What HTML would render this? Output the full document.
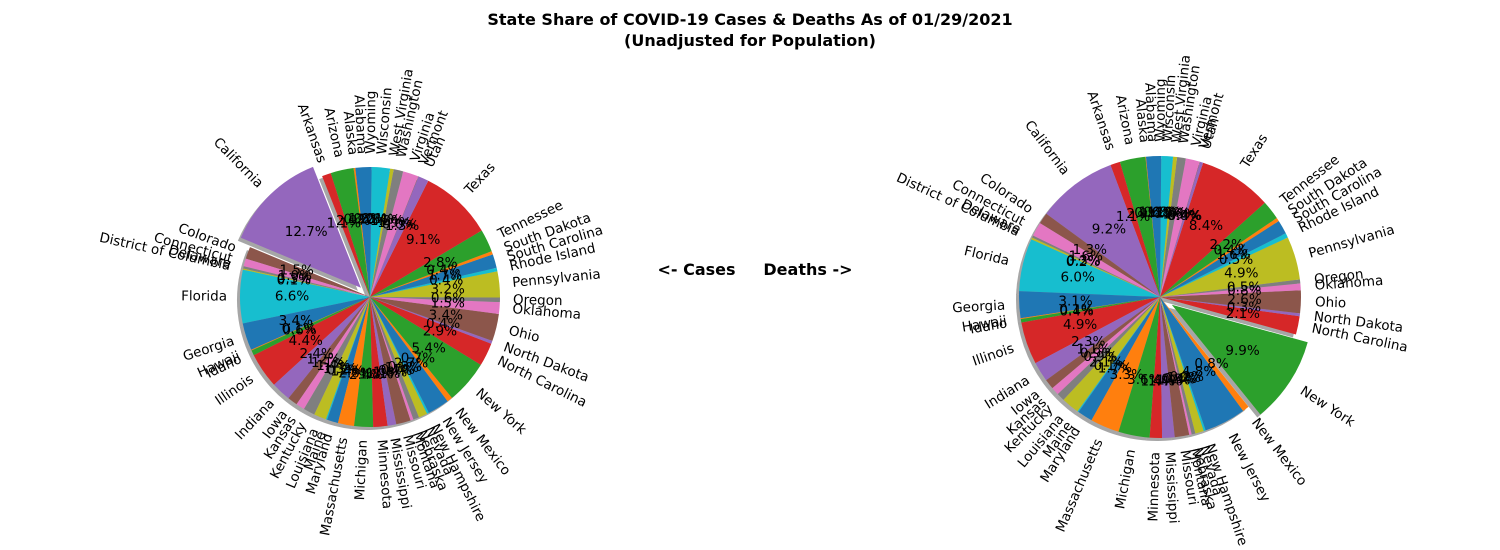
<!DOCTYPE html>
<html><head><meta charset="utf-8"><style>
html,body{margin:0;padding:0;background:#fff;}
svg{display:block;font-family:"DejaVu Sans","Liberation Sans",sans-serif;}
</style></head><body>
<svg id="chart" width="1500" height="550" viewBox="0 0 1500 550" xmlns="http://www.w3.org/2000/svg">
<text x="750" y="25" text-anchor="middle" font-size="16" font-weight="bold">State Share of COVID-19 Cases &amp; Deaths As of 01/29/2021</text>
<text x="750" y="46" text-anchor="middle" font-size="16" font-weight="bold">(Unadjusted for Population)</text>
<text x="755" y="275" text-anchor="middle" font-size="16" font-weight="bold" xml:space="preserve">&lt;- Cases     Deaths -&gt;</text>
<g id="cases"></g>
<g id="deaths"></g>
</svg>
<script>
const states = ["Alabama","Alaska","Arizona","Arkansas","California","Colorado","Connecticut","Delaware","District of Columbia","Florida","Georgia","Hawaii","Idaho","Illinois","Indiana","Iowa","Kansas","Kentucky","Louisiana","Maine","Maryland","Massachusetts","Michigan","Minnesota","Mississippi","Missouri","Montana","Nebraska","Nevada","New Hampshire","New Jersey","New Mexico","New York","North Carolina","North Dakota","Ohio","Oklahoma","Oregon","Pennsylvania","Rhode Island","South Carolina","South Dakota","Tennessee","Texas","Utah","Vermont","Virginia","Washington","West Virginia","Wisconsin","Wyoming"];
const cases = [470,53,745,290,3300,390,250,77,37,1720,880,26,165,1140,630,320,280,370,400,40,360,520,610,460,280,470,95,190,280,65,700,175,1400,750,98,880,380,145,840,115,440,108,730,2350,340,12,500,310,115,590,52];
const deaths = [7000,280,12900,4900,40500,5600,7100,1100,950,26500,13500,400,1800,21300,10000,5000,4000,4000,9000,600,7600,14600,15700,6200,6300,7300,1200,1900,4300,1000,21000,3400,43500,9200,1450,11500,3400,2000,21700,2300,7000,1800,9600,36900,1600,190,7000,4400,2000,5900,600];
const casesExplode = "California";
const deathsExplode = "New York";
const palette = ["#1f77b4","#ff7f0e","#2ca02c","#d62728","#9467bd","#8c564b","#e377c2","#7f7f7f","#bcbd22","#17becf"];
const NS = "http://www.w3.org/2000/svg";
function mk(tag, attrs){const e=document.createElementNS(NS,tag);for(const k in attrs)e.setAttribute(k,attrs[k]);return e;}
function wedgePath(cx,cy,r,a1,a2){
  const r1=a1*Math.PI/180,r2=a2*Math.PI/180;
  const x1=cx+r*Math.cos(r1),y1=cy-r*Math.sin(r1),x2=cx+r*Math.cos(r2),y2=cy-r*Math.sin(r2);
  const large=(a2-a1)>180?1:0;
  return `M${cx},${cy} L${x1},${y1} A${r},${r} 0 ${large} 0 ${x2},${y2} Z`;
}
function drawPie(gid, values, explodeName, cx, cy, r){
  const g=document.getElementById(gid);
  const total=values.reduce((a,b)=>a+b,0);
  const shadows=mk("g",{}); const wedges=mk("g",{}); const texts=mk("g",{});
  g.appendChild(shadows);g.appendChild(wedges);g.appendChild(texts);
  let a=90;
  values.forEach((v,i)=>{
    const span=v/total*360, a1=a, a2=a+span, mid=(a1+a2)/2; a=a2;
    const m=mid*Math.PI/180;
    const ex = states[i]===explodeName ? 0.1*r : 0;
    const ox=cx+ex*Math.cos(m), oy=cy-ex*Math.sin(m);
    const sh=mk("path",{d:wedgePath(ox-3,oy+3,r,a1,a2),fill:"#000","fill-opacity":"0.35"});
    
    
    shadows.appendChild(sh);
    const w=mk("path",{d:wedgePath(ox,oy,r,a1,a2),fill:palette[i%10]});
    
    
    wedges.appendChild(w);
    const lx=ox+1.1*r*Math.cos(m), ly=oy-1.1*r*Math.sin(m);
    let rot=((mid%360)+360)%360; const right=Math.cos(m)>=0;
    if(!right) rot+=180;
    const t=mk("text",{x:lx,y:ly,"font-size":"13.5","text-anchor":right?"start":"end","dominant-baseline":"central",transform:`rotate(${-rot},${lx},${ly})`});
    t.textContent=states[i];
    
    
    texts.appendChild(t);
    const px=ox+0.6*r*Math.cos(m), py=oy-0.6*r*Math.sin(m);
    const p=mk("text",{x:px,y:py,"font-size":"13.5","text-anchor":"middle","dominant-baseline":"central"});
    p.textContent=(v/total*100).toFixed(1)+"%";
    
    
    texts.appendChild(p);
  });
}
drawPie("cases",cases,casesExplode,370,297,130);
drawPie("deaths",deaths,deathsExplode,1160,297,141);
</script>
</body></html>
